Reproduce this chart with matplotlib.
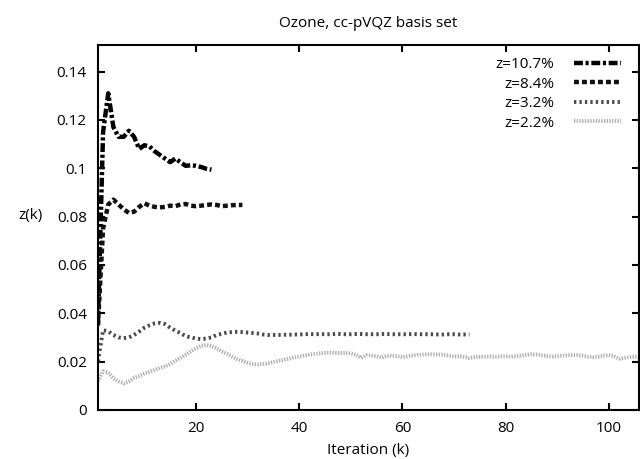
import matplotlib
matplotlib.use("Agg")
import matplotlib.pyplot as plt

plt.rcParams['font.family'] = ['Open Sans', 'DejaVu Sans']

# valores, k = 1, 2, 3, ...
z107 = [0.035, 0.115, 0.131, 0.117, 0.113, 0.113, 0.1155, 0.113, 0.108, 0.1095,
        0.109, 0.107, 0.1055, 0.104, 0.1025, 0.104, 0.1025, 0.101, 0.1012, 0.101,
        0.1005, 0.0998, 0.0994]

z84 = [0.035, 0.075, 0.085, 0.087, 0.085, 0.083, 0.0815, 0.082, 0.084, 0.0855,
       0.0845, 0.084, 0.0838, 0.084, 0.0845, 0.0843, 0.085, 0.0852, 0.0845, 0.0843,
       0.0845, 0.0848, 0.085, 0.0848, 0.0843, 0.0845, 0.0847, 0.0848, 0.0848]

z32 = [0.020, 0.033, 0.0325, 0.031, 0.030, 0.0297, 0.030, 0.031, 0.0324, 0.034,
       0.035, 0.0358, 0.036, 0.0355, 0.034, 0.0328, 0.0318, 0.0305, 0.030, 0.0295,
       0.0293, 0.0295, 0.030, 0.031, 0.0315, 0.032, 0.0322, 0.0323, 0.0322, 0.032,
       0.0318, 0.0316, 0.0312, 0.031, 0.031, 0.031, 0.0311, 0.0311, 0.0312, 0.0312,
       0.0313, 0.0314, 0.0313, 0.0314, 0.0313, 0.0313, 0.0314, 0.0314, 0.0313, 0.0313,
       0.0314, 0.0314, 0.0313, 0.0313, 0.0313, 0.0314, 0.0314, 0.0313, 0.0313, 0.0313,
       0.0313, 0.0314, 0.0313, 0.0313, 0.0313, 0.0313, 0.0312, 0.0312, 0.0313, 0.0313,
       0.0312, 0.0312, 0.0312]

z22 = [0.012, 0.016, 0.0155, 0.013, 0.0118, 0.011, 0.0118, 0.0132, 0.014, 0.015,
       0.0158, 0.0165, 0.0173, 0.018, 0.019, 0.0203, 0.0215, 0.0228, 0.0242, 0.0255,
       0.0265, 0.0268, 0.0265, 0.0255, 0.0242, 0.0232, 0.022, 0.021, 0.0203, 0.0195,
       0.019, 0.0188, 0.019, 0.0193, 0.0198, 0.0203, 0.0207, 0.0212, 0.0217, 0.0221,
       0.0225, 0.0229, 0.0232, 0.0234, 0.0236, 0.0237, 0.0236, 0.0235, 0.0236, 0.0234,
       0.0228, 0.0215, 0.0226, 0.0225, 0.0222, 0.0216, 0.0224, 0.0225, 0.0222, 0.0218,
       0.0222, 0.0225, 0.0228, 0.0229, 0.023, 0.023, 0.0229, 0.0228, 0.0225, 0.022,
       0.0223, 0.0219, 0.0214, 0.0218, 0.022, 0.022, 0.0221, 0.022, 0.0221, 0.0222,
       0.022, 0.0222, 0.0225, 0.0228, 0.023, 0.0229, 0.0226, 0.0223, 0.022, 0.0222,
       0.0225, 0.0226, 0.0227, 0.0227, 0.0224, 0.022, 0.0218, 0.022, 0.0224, 0.0227,
       0.0222, 0.0212, 0.0215, 0.0218, 0.022, 0.0221]

series = [
    ("z=10.7%", z107, 'black', 3.2, (2.0, 0.6, 0.7, 0.6)),
    ("z=8.4%", z84, '#111111', 3.2, (1.1, 0.7)),
    ("z=3.2%", z32, '#4a4a4a', 2.8, (0.6, 0.8)),
    ("z=2.2%", z22, '#b0b0b0', 2.8, (0.35, 0.35)),
]

fig = plt.figure(figsize=(6.4, 4.59), dpi=100)
ax = fig.add_axes([0.153, 0.107, 0.845, 0.795])

for etiqueta, valores, color, ancho, guiones in series:
    ks = list(range(1, len(valores) + 1))
    ax.plot(ks, valores, color=color, lw=ancho, dashes=guiones, label=etiqueta)

ax.set_xlim(1, 105.8)
ax.set_ylim(0, 0.151)
ax.set_xticks([20, 40, 60, 80, 100])
ax.set_yticks([0, 0.02, 0.04, 0.06, 0.08, 0.1, 0.12, 0.14])
ax.set_yticklabels(['0', '0.02', '0.04', '0.06', '0.08', '0.1', '0.12', '0.14'])
ax.tick_params(direction='in', length=5, width=1.5, top=True, right=True,
               labelsize=11, pad=8)
for s in ax.spines.values():
    s.set_linewidth(1.5)

ax.set_title("Ozone, cc-pVQZ basis set", fontsize=11, pad=13)
ax.set_xlabel("Iteration (k)", fontsize=11, labelpad=5)
fig.text(0.047, 0.53, "z(k)", fontsize=11, ha='center', va='center')

ax.legend(loc='upper right', frameon=False, markerfirst=False, fontsize=11,
          handlelength=3.1, handletextpad=1.3, labelspacing=0.3,
          borderaxespad=0.2, bbox_to_anchor=(0.985, 0.992))

fig.savefig("out.png", dpi=100)
plt.close(fig)
